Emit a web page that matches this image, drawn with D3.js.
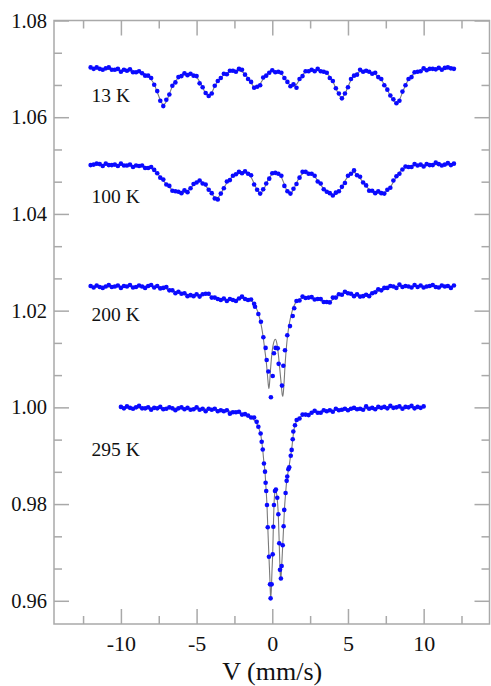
<!DOCTYPE html>
<html><head><meta charset="utf-8">
<script src="https://cdn.jsdelivr.net/npm/d3@7"></script>
<style>html,body{margin:0;padding:0;background:#fff;} svg{display:block;} text{font-family:'Liberation Serif','Times New Roman',Times,serif;}</style>
</head><body><svg id="chart" width="491" height="686"></svg>
<script>
// ---------------- DATA ----------------
const vel12 = [-12.0,-11.8,-11.6,-11.4,-11.2,-11.0,-10.8,-10.6,-10.4,-10.2,-10.0,-9.8,-9.6,-9.4,-9.2,-9.0,-8.8,-8.6,-8.4,-8.2,-8.0,-7.8,-7.6,-7.4,-7.2,-7.0,-6.8,-6.6,-6.4,-6.2,-6.0,-5.8,-5.6,-5.4,-5.2,-5.0,-4.8,-4.6,-4.4,-4.2,-4.0,-3.8,-3.6,-3.4,-3.2,-3.0,-2.8,-2.6,-2.4,-2.2,-2.0,-1.8,-1.6,-1.4,-1.2,-1.0,-0.8,-0.6,-0.4,-0.2,0.0,0.2,0.4,0.6,0.8,1.0,1.2,1.4,1.6,1.8,2.0,2.2,2.4,2.6,2.8,3.0,3.2,3.4,3.6,3.8,4.0,4.2,4.4,4.6,4.8,5.0,5.2,5.4,5.6,5.8,6.0,6.2,6.4,6.6,6.8,7.0,7.2,7.4,7.6,7.8,8.0,8.2,8.4,8.6,8.8,9.0,9.2,9.4,9.6,9.8,10.0,10.2,10.4,10.6,10.8,11.0,11.2,11.4,11.6,11.8,12.0];

// 13 K
const d13 = [1.0703,1.0700,1.0703,1.0700,1.0698,1.0701,1.0703,1.0698,1.0698,1.0700,
1.0694,1.0698,1.0696,1.0699,1.0693,1.0693,1.0695,1.0691,1.0686,1.0686,
1.0681,1.0667,1.0654,1.0634,1.0623,1.0636,1.0647,1.0665,1.0672,1.0683,
1.0685,1.0691,1.0687,1.0690,1.0686,1.0685,1.0670,1.0662,1.0650,1.0644,
1.0649,1.0665,1.0675,1.0681,1.0690,1.0689,1.0696,1.0696,1.0694,1.0700,
1.0698,1.0688,1.0679,1.0673,1.0661,1.0663,1.0666,1.0682,1.0686,1.0692,
1.0697,1.0693,1.0694,1.0692,1.0681,1.0673,1.0664,1.0668,1.0661,1.0679,
1.0685,1.0695,1.0695,1.0698,1.0695,1.0700,1.0695,1.0694,1.0692,1.0681,
1.0675,1.0660,1.0649,1.0639,1.0649,1.0662,1.0679,1.0686,1.0688,1.0698,
1.0694,1.0696,1.0694,1.0690,1.0692,1.0683,1.0679,1.0666,1.0657,1.0645,
1.0637,1.0629,1.0634,1.0653,1.0666,1.0679,1.0683,1.0693,1.0694,1.0695,
1.0701,1.0697,1.0700,1.0700,1.0699,1.0702,1.0698,1.0702,1.0703,1.0701,1.0700];
const f13 = [1.0701,1.0701,1.0700,1.0700,1.0700,1.0700,1.0699,1.0699,1.0698,1.0698,
1.0697,1.0697,1.0696,1.0696,1.0695,1.0694,1.0693,1.0691,1.0689,1.0685,
1.0678,1.0668,1.0652,1.0636,1.0626,1.0632,1.0648,1.0664,1.0675,1.0681,
1.0685,1.0688,1.0689,1.0689,1.0687,1.0683,1.0674,1.0662,1.0649,1.0644,
1.0651,1.0664,1.0675,1.0682,1.0687,1.0691,1.0694,1.0696,1.0697,1.0696,
1.0694,1.0689,1.0681,1.0671,1.0663,1.0662,1.0669,1.0679,1.0687,1.0692,
1.0695,1.0695,1.0693,1.0689,1.0682,1.0673,1.0666,1.0664,1.0668,1.0678,
1.0688,1.0693,1.0695,1.0697,1.0697,1.0697,1.0696,1.0694,1.0690,1.0684,
1.0674,1.0660,1.0646,1.0641,1.0648,1.0663,1.0677,1.0686,1.0691,1.0694,
1.0695,1.0695,1.0694,1.0692,1.0689,1.0684,1.0677,1.0668,1.0657,1.0644,
1.0634,1.0630,1.0636,1.0651,1.0666,1.0678,1.0686,1.0691,1.0694,1.0696,
1.0698,1.0699,1.0699,1.0700,1.0700,1.0700,1.0701,1.0701,1.0701,1.0701,1.0701];

// 100 K
const d100 = [1.0501,1.0502,1.0504,1.0503,1.0499,1.0504,1.0501,1.0501,1.0502,1.0499,
1.0504,1.0500,1.0500,1.0502,1.0497,1.0500,1.0499,1.0500,1.0495,1.0495,
1.0497,1.0491,1.0484,1.0475,1.0471,1.0461,1.0458,1.0448,1.0447,1.0446,
1.0443,1.0449,1.0445,1.0453,1.0462,1.0465,1.0469,1.0463,1.0461,1.0450,
1.0443,1.0432,1.0430,1.0442,1.0453,1.0467,1.0470,1.0479,1.0482,1.0487,
1.0484,1.0488,1.0483,1.0480,1.0461,1.0450,1.0442,1.0451,1.0463,1.0473,
1.0484,1.0485,1.0483,1.0479,1.0458,1.0447,1.0442,1.0452,1.0462,1.0475,
1.0487,1.0487,1.0483,1.0483,1.0479,1.0467,1.0463,1.0451,1.0446,1.0443,
1.0438,1.0444,1.0447,1.0456,1.0464,1.0479,1.0483,1.0490,1.0480,1.0477,
1.0465,1.0459,1.0448,1.0448,1.0443,1.0447,1.0443,1.0442,1.0450,1.0454,
1.0469,1.0478,1.0483,1.0492,1.0498,1.0497,1.0497,1.0503,1.0500,1.0502,
1.0498,1.0503,1.0501,1.0501,1.0506,1.0503,1.0500,1.0502,1.0505,1.0501,1.0504];
const f100 = [1.0502,1.0502,1.0502,1.0502,1.0502,1.0502,1.0502,1.0501,1.0501,1.0501,
1.0501,1.0501,1.0500,1.0500,1.0500,1.0499,1.0499,1.0498,1.0497,1.0496,
1.0494,1.0490,1.0484,1.0477,1.0469,1.0462,1.0455,1.0450,1.0447,1.0445,
1.0444,1.0445,1.0448,1.0453,1.0460,1.0466,1.0468,1.0465,1.0458,1.0450,
1.0442,1.0435,1.0434,1.0442,1.0454,1.0464,1.0472,1.0478,1.0482,1.0485,
1.0487,1.0487,1.0484,1.0476,1.0463,1.0450,1.0443,1.0448,1.0462,1.0475,
1.0482,1.0485,1.0484,1.0476,1.0461,1.0446,1.0442,1.0450,1.0464,1.0476,
1.0483,1.0486,1.0486,1.0483,1.0477,1.0469,1.0460,1.0452,1.0446,1.0442,
1.0440,1.0441,1.0446,1.0456,1.0468,1.0477,1.0484,1.0486,1.0482,1.0474,
1.0465,1.0457,1.0451,1.0447,1.0444,1.0443,1.0443,1.0444,1.0448,1.0455,
1.0466,1.0477,1.0486,1.0492,1.0496,1.0498,1.0499,1.0500,1.0500,1.0501,
1.0501,1.0501,1.0501,1.0502,1.0502,1.0502,1.0502,1.0502,1.0502,1.0502,1.0502];

// 200 K
const vel200 = [-12.0,-11.8,-11.6,-11.4,-11.2,-11.0,-10.8,-10.6,-10.4,-10.2,-10.0,-9.8,-9.6,-9.4,-9.2,-9.0,-8.8,-8.6,-8.4,-8.2,-8.0,-7.8,-7.6,-7.4,-7.2,-7.0,-6.8,-6.6,-6.4,-6.2,-6.0,-5.8,-5.6,-5.4,-5.2,-5.0,-4.8,-4.6,-4.4,-4.2,-4.0,-3.8,-3.6,-3.4,-3.2,-3.0,-2.8,-2.6,-2.4,-2.2,-2.0,-1.8,-1.6,-1.4,-1.2,
-1.14,-0.92,-0.75,-0.59,-0.44,-0.37,-0.26,-0.09,0.03,0.11,0.22,0.36,0.42,0.64,0.73,0.84,0.99,1.17,1.35,1.45,
1.6,1.8,2.0,2.2,2.4,2.6,2.8,3.0,3.2,3.4,3.6,3.8,4.0,4.2,4.4,4.6,4.8,5.0,5.2,5.4,5.6,5.8,6.0,6.2,6.4,6.6,6.8,7.0,7.2,7.4,7.6,7.8,8.0,8.2,8.4,8.6,8.8,9.0,9.2,9.4,9.6,9.8,10.0,10.2,10.4,10.6,10.8,11.0,11.2,11.4,11.6,11.8,12.0];
const d200 = [1.0251,1.0248,1.0252,1.0249,1.0247,1.0250,1.0253,1.0249,1.0250,1.0252,
1.0247,1.0251,1.0250,1.0253,1.0248,1.0249,1.0252,1.0250,1.0247,1.0251,
1.0253,1.0248,1.0251,1.0246,1.0247,1.0249,1.0242,1.0242,1.0236,1.0239,
1.0235,1.0236,1.0230,1.0232,1.0230,1.0234,1.0229,1.0234,1.0235,1.0235,
1.0227,1.0227,1.0224,1.0222,1.0225,1.0220,1.0224,1.0222,1.0220,1.0225,
1.0229,1.0224,1.0222,1.0223,1.0214,
1.0208,1.0193,1.0177,1.0145,1.0123,1.0098,1.0074,1.0021,1.0065,1.0112,1.0123,1.0122,1.0090,1.0045,1.0086,1.0118,1.0149,1.0168,1.0189,1.0205,
1.0220,1.0221,1.0229,1.0226,1.0227,1.0228,1.0223,1.0224,1.0224,1.0218,
1.0218,1.0217,1.0227,1.0227,1.0234,1.0233,1.0239,1.0236,1.0235,1.0230,
1.0234,1.0229,1.0230,1.0233,1.0230,1.0236,1.0238,1.0244,1.0242,1.0247,
1.0247,1.0251,1.0250,1.0247,1.0254,1.0249,1.0251,1.0250,1.0248,1.0253,
1.0249,1.0252,1.0248,1.0250,1.0251,1.0253,1.0249,1.0248,1.0252,1.0250,
1.0251,1.0247,1.0252];
const velFit200 = [-12,-11,-10,-9,-8,-7.6,-7.2,-6.8,-6.4,-6.0,-5.6,-5.2,-4.8,-4.4,-4.0,-3.6,-3.2,-2.8,-2.4,-2.0,-1.6,-1.4,-1.2,
-1.0,-0.9,-0.8,-0.7,-0.6,-0.5,-0.4,-0.34,-0.3,-0.26,-0.22,-0.18,-0.1,0.0,0.1,0.2,0.3,0.4,0.5,0.6,0.66,0.7,0.76,0.85,0.95,1.05,1.15,1.25,1.35,1.5,
1.6,1.8,2.2,2.6,3.0,3.4,3.8,4.2,4.6,5.0,5.4,5.8,6.2,6.6,7.0,7.4,7.8,8.2,9,10,11,12];
const f200 = [1.0249,1.0249,1.0250,1.0250,1.0250,1.0249,1.0247,1.0243,1.0239,1.0235,1.0232,1.0231,1.0233,1.0234,1.0229,1.0224,1.0222,1.0222,1.0223,1.0225,1.0224,1.0221,1.0214,
1.0201,1.0192,1.0180,1.0165,1.0145,1.0120,1.0095,1.0075,1.0060,1.0046,1.0039,1.0050,1.0085,1.0118,1.0135,1.0141,1.0133,1.0110,1.0078,1.0045,1.0026,1.0023,1.0042,1.0090,1.0130,1.0158,1.0177,1.0191,1.0203,1.0214,
1.0219,1.0224,1.0227,1.0226,1.0223,1.0219,1.0219,1.0228,1.0236,1.0236,1.0232,1.0230,1.0231,1.0235,1.0241,1.0246,1.0249,1.0250,1.0250,1.0250,1.0250,1.0250];

// 295 K
const vel295 = [-10.0,-9.8,-9.6,-9.4,-9.2,-9.0,-8.8,-8.6,-8.4,-8.2,-8.0,-7.8,-7.6,-7.4,-7.2,-7.0,-6.8,-6.6,-6.4,-6.2,-6.0,-5.8,-5.6,-5.4,-5.2,-5.0,-4.8,-4.6,-4.4,-4.2,-4.0,-3.8,-3.6,-3.4,-3.2,-3.0,-2.8,-2.6,-2.4,-2.2,-2.0,-1.8,-1.6,-1.4,-1.2,
-1.03,-0.92,-0.77,-0.70,-0.63,-0.55,-0.48,-0.44,-0.40,-0.35,-0.30,-0.22,-0.15,-0.11,-0.04,0.03,0.07,0.11,0.18,0.24,0.33,0.40,0.46,0.51,0.57,0.62,0.69,0.75,0.79,0.88,0.95,0.99,1.06,1.12,1.22,1.28,1.35,1.39,1.50,1.61,
1.8,2.0,2.2,2.4,2.6,2.8,3.0,3.2,3.4,3.6,3.8,4.0,4.2,4.4,4.6,4.8,5.0,5.2,5.4,5.6,5.8,6.0,6.2,6.4,6.6,6.8,7.0,7.2,7.4,7.6,7.8,8.0,8.2,8.4,8.6,8.8,9.0,9.2,9.4,9.6,9.8,10.0];
const d295 = [1.0001,0.9998,1.0002,0.9999,0.9997,1.0000,1.0003,0.9998,0.9998,1.0000,
0.9995,0.9999,0.9998,1.0001,0.9996,0.9997,1.0000,0.9998,0.9994,0.9998,
1.0000,0.9996,0.9999,0.9995,0.9996,1.0000,0.9995,0.9997,0.9992,0.9997,
0.9995,0.9997,0.9992,0.9994,0.9992,0.9994,0.9987,0.9990,0.9990,0.9991,
0.9985,0.9986,0.9983,0.9979,0.9979,
0.9970,0.9960,0.9946,0.9929,0.9913,0.9884,0.9867,0.9844,0.9827,0.9798,0.9752,0.9691,0.9634,0.9605,0.9634,0.9696,0.9753,0.9798,0.9827,0.9830,0.9813,0.9779,0.9719,0.9664,0.9646,0.9672,0.9715,0.9754,0.9788,0.9823,0.9848,0.9857,0.9872,0.9876,0.9900,0.9912,0.9934,0.9950,0.9963,0.9974,
0.9977,0.9985,0.9985,0.9984,0.9989,0.9993,0.9989,0.9989,0.9994,0.9992,
0.9994,0.9991,0.9997,0.9994,0.9995,0.9997,0.9994,0.9997,0.9999,0.9996,
0.9997,0.9995,1.0002,0.9997,0.9999,0.9996,1.0001,0.9999,1.0001,0.9998,
1.0003,0.9999,1.0000,1.0002,0.9997,1.0001,1.0000,1.0003,0.9998,1.0001,
0.9999,1.0002];
const velFit295 = [-10,-8,-6,-4,-3,-2.4,-2.0,-1.6,-1.3,-1.1,-0.95,-0.85,-0.77,-0.70,-0.63,-0.55,-0.48,-0.42,-0.35,-0.30,-0.22,-0.15,-0.11,-0.07,-0.02,0.03,0.07,0.11,0.16,0.22,0.28,0.33,0.40,0.46,0.51,0.56,0.61,0.69,0.75,0.80,0.88,0.95,1.02,1.10,1.20,1.28,1.35,1.42,1.5,1.6,1.8,2.0,2.5,3.0,4.0,5.0,6.0,7.0,8.0,10.0];
const f295 = [0.9999,0.9999,0.9998,0.9996,0.9993,0.9990,0.9987,0.9983,0.9977,0.9970,0.9962,0.9953,0.9945,0.9930,0.9912,0.9885,0.9866,0.9835,0.9798,0.9755,0.9692,0.9638,0.9605,0.9618,0.9660,0.9700,0.9752,0.9795,0.9822,0.9831,0.9823,0.9810,0.9776,0.9718,0.9666,0.9643,0.9665,0.9715,0.9753,0.9787,0.9822,0.9847,0.9862,0.9876,0.9897,0.9913,0.9933,0.9952,0.9963,0.9972,0.9979,0.9983,0.9988,0.9991,0.9994,0.9996,0.9997,0.9999,1.0000,1.0000];

const seriesLabels = ["13 K","100 K","200 K","295 K"];
const xTicks = [-10,-5,0,5,10];
const xTickLabels = ["-10","-5","0","5","10"];
const xMinorTicks = [-12.5,-7.5,-2.5,2.5,7.5,12.5];
const yTicks = [0.96,0.98,1.00,1.02,1.04,1.06,1.08];
const yTickLabels = ["0.96","0.98","1.00","1.02","1.04","1.06","1.08"];
const yMinorTicks = [0.96667,0.97333,0.98667,0.99333,1.00667,1.01333,1.02667,1.03333,1.04667,1.05333,1.06667,1.07333];
const xTitle = "V (mm/s)";

// ---------------- LAYOUT ----------------
const L = 54, R = 489.5, T = 20.5, B = 624;
const svg = d3.select("#chart");
const x = d3.scaleLinear().domain([-14.42, 14.35]).range([L, R]);
const y = d3.scaleLinear().domain([0.9552, 1.08]).range([B, T]);
const frameColor = "#a9a9a9";
const serif = "'Liberation Serif','Times New Roman',Times,serif";

const series = [
  {vx: vel12, vy: d13, fx: vel12, fy: f13},
  {vx: vel12, vy: d100, fx: vel12, fy: f100},
  {vx: vel200, vy: d200, fx: velFit200, fy: f200},
  {vx: vel295, vy: d295, fx: velFit295, fy: f295}
];

const plot = svg.append("g");
const line = d3.line().x(d => x(d[0])).y(d => y(d[1])).curve(d3.curveMonotoneX);
series.forEach(s => {
  plot.append("path").datum(d3.zip(s.fx, s.fy))
    .attr("d", line).attr("fill", "none")
    .attr("stroke", "#7a7a7a").attr("stroke-width", 1.1);
});
series.forEach(s => {
  plot.append("g").selectAll("circle").data(d3.zip(s.vx, s.vy)).join("circle")
    .attr("cx", d => x(d[0])).attr("cy", d => y(d[1])).attr("r", 2.3)
    .attr("fill", "#0a0aff");
});

// frame
svg.append("rect").attr("x", L).attr("y", T).attr("width", R - L).attr("height", B - T)
  .attr("fill", "none").attr("stroke", frameColor).attr("stroke-width", 1.5);

function styleAxis(g) {
  g.attr("font-family", null);
  g.select(".domain").remove();
  g.selectAll(".tick line").attr("stroke", frameColor).attr("stroke-width", 1.5);
  g.selectAll("text").style("font-family", serif).attr("fill", "#111");
}
// bottom
svg.append("g").attr("transform", `translate(0,${B})`)
  .call(d3.axisBottom(x).tickValues(xTicks).tickSize(-15).tickPadding(11)
        .tickFormat((d, i) => xTickLabels[i]))
  .call(styleAxis).call(g => g.selectAll("text").attr("font-size", 22));
svg.append("g").attr("transform", `translate(0,${B})`)
  .call(d3.axisBottom(x).tickValues(xMinorTicks).tickSize(-8).tickFormat(""))
  .call(styleAxis);
// top
svg.append("g").attr("transform", `translate(0,${T})`)
  .call(d3.axisTop(x).tickValues(xTicks).tickSize(-15).tickFormat(""))
  .call(styleAxis);
svg.append("g").attr("transform", `translate(0,${T})`)
  .call(d3.axisTop(x).tickValues(xMinorTicks).tickSize(-8).tickFormat(""))
  .call(styleAxis);
// left
svg.append("g").attr("transform", `translate(${L},0)`)
  .call(d3.axisLeft(y).tickValues(yTicks).tickSize(-15).tickPadding(7)
        .tickFormat((d, i) => yTickLabels[i]))
  .call(styleAxis).call(g => g.selectAll("text").attr("font-size", 20.5));
svg.append("g").attr("transform", `translate(${L},0)`)
  .call(d3.axisLeft(y).tickValues(yMinorTicks).tickSize(-8).tickFormat(""))
  .call(styleAxis);
// right
svg.append("g").attr("transform", `translate(${R},0)`)
  .call(d3.axisRight(y).tickValues(yTicks).tickSize(-15).tickFormat(""))
  .call(styleAxis);
svg.append("g").attr("transform", `translate(${R},0)`)
  .call(d3.axisRight(y).tickValues(yMinorTicks).tickSize(-8).tickFormat(""))
  .call(styleAxis);

// axis title
svg.append("text").attr("x", x(0)).attr("y", 679.5).attr("text-anchor", "middle")
  .style("font-family", serif).attr("font-size", 26).attr("fill", "#111").text(xTitle);

// series labels
const labelBaselines = [101.7, 203.3, 321, 456];
seriesLabels.forEach((t, i) => {
  svg.append("text").attr("x", 91.5).attr("y", labelBaselines[i])
    .style("font-family", serif).attr("font-size", 19.5).attr("fill", "#111").text(t);
});
</script>
</body></html>
